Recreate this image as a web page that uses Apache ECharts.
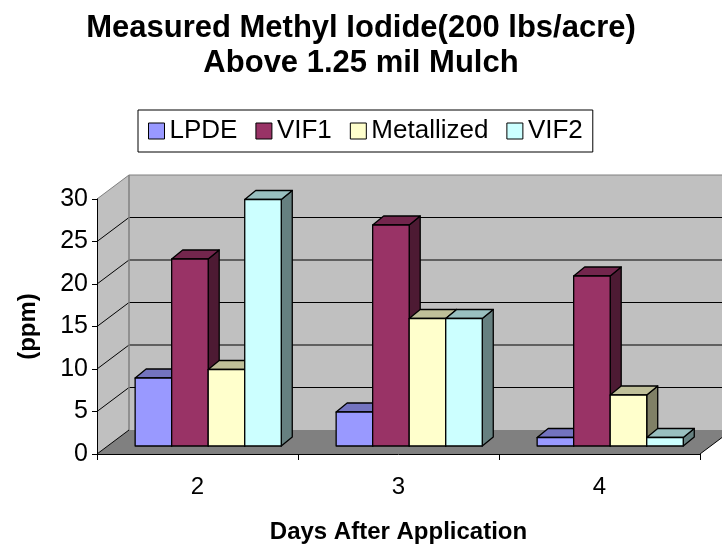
<!DOCTYPE html>
<html><head><meta charset="utf-8">
<script src="https://cdn.jsdelivr.net/npm/echarts@6/dist/echarts.min.js"></script>
<style>html,body{margin:0;padding:0;background:#fff}#c{width:722px;height:548px}</style>
</head><body><div id="c"></div>
<script>
const categories = ['2', '3', '4'];
const lpde = [8, 4, 1];
const vif1 = [22, 26, 20];
const metallized = [9, 15, 6];
const vif2 = [29, 15, 1];
const seriesNames = ['LPDE', 'VIF1', 'Metallized', 'VIF2'];
const yTicks = [0, 5, 10, 15, 20, 25, 30];

const seriesValues = [lpde, vif1, metallized, vif2];
const colors = ['#9999FF', '#993366', '#FFFFCC', '#CCFFFF'];
const FONT = 'Liberation Sans, Arial, sans-serif';
const FLOOR_DX = 32, FLOOR_DY = -24;
const BAR_SHIFT_X = 10.7, BAR_SHIFT_Y = -8;
const BAR_DX = 11, BAR_DY = -9;

function shade(hex, f) {
  const n = parseInt(hex.slice(1), 16);
  const r = Math.round(((n >> 16) & 255) * f), g = Math.round(((n >> 8) & 255) * f), b = Math.round((n & 255) * f);
  return 'rgb(' + r + ',' + g + ',' + b + ')';
}

function wallRender(params, api) {
  const cs = params.coordSys;
  const x0 = cs.x, x1 = cs.x + cs.width;
  const yB = api.coord([0, yTicks[0]])[1];
  const yT = api.coord([0, yTicks[yTicks.length - 1]])[1];
  const ch = [];
  ch.push({type: 'polygon', shape: {points: [[x0, yB], [x0, yT], [x0 + FLOOR_DX, yT + FLOOR_DY], [x0 + FLOOR_DX, yB + FLOOR_DY]]}, style: {fill: '#C0C0C0'}});
  ch.push({type: 'polygon', shape: {points: [[x0 + FLOOR_DX, yT + FLOOR_DY], [x1 + FLOOR_DX, yT + FLOOR_DY], [x1 + FLOOR_DX, yB + FLOOR_DY], [x0 + FLOOR_DX, yB + FLOOR_DY]]}, style: {fill: '#C0C0C0'}});
  ch.push({type: 'polygon', shape: {points: [[x0, yB], [x1, yB], [x1 + FLOOR_DX, yB + FLOOR_DY], [x0 + FLOOR_DX, yB + FLOOR_DY]]}, style: {fill: '#808080'}});
  for (let i = 1; i < yTicks.length; i++) {
    const y = api.coord([0, yTicks[i]])[1];
    const col = (i === yTicks.length - 1) ? '#808080' : '#000';
    ch.push({type: 'polyline', shape: {points: [[x0, y], [x0 + FLOOR_DX, y + FLOOR_DY], [x1 + FLOOR_DX, y + FLOOR_DY]]}, style: {stroke: col, lineWidth: 1, fill: null}});
  }
  ch.push({type: 'line', shape: {x1: x0 + FLOOR_DX, y1: yT + FLOOR_DY, x2: x0 + FLOOR_DX, y2: yB + FLOOR_DY}, style: {stroke: '#808080', lineWidth: 1.5}});
  ch.push({type: 'line', shape: {x1: x0, y1: yB, x2: x0 + FLOOR_DX, y2: yB + FLOOR_DY}, style: {stroke: '#000', lineWidth: 1}});
  ch.push({type: 'line', shape: {x1: x1, y1: yB, x2: x1 + FLOOR_DX, y2: yB + FLOOR_DY}, style: {stroke: '#000', lineWidth: 1}});
  return {type: 'group', children: ch};
}

function barRender(si) {
  return function (params, api) {
    const ci = api.value(0), v = api.value(1);
    const base = api.coord([ci, 0]);
    const top = api.coord([ci, v]);
    const band = api.size([1, 0])[0];
    const groupW = band * 0.727;
    const w = groupW / 4;
    const x = base[0] + BAR_SHIFT_X - groupW / 2 + si * w;
    const yB = base[1] + BAR_SHIFT_Y, yT = top[1] + BAR_SHIFT_Y;
    const c = colors[si];
    const st = {stroke: '#000', lineWidth: 1.3, lineJoin: 'round'};
    return {type: 'group', children: [
      {type: 'polygon', shape: {points: [[x + w, yT], [x + w + BAR_DX, yT + BAR_DY], [x + w + BAR_DX, yB + BAR_DY], [x + w, yB]]}, style: Object.assign({}, st, {fill: shade(c, 0.5)})},
      {type: 'polygon', shape: {points: [[x, yT], [x + w, yT], [x + w + BAR_DX, yT + BAR_DY], [x + BAR_DX, yT + BAR_DY]]}, style: Object.assign({}, st, {fill: shade(c, 0.75)})},
      {type: 'rect', shape: {x: x, y: yT, width: w, height: yB - yT}, style: Object.assign({}, st, {fill: c})}
    ]};
  };
}

const series = [{
  type: 'custom', name: 'walls', z: 1, silent: true,
  renderItem: wallRender, data: [[0, 0]]
}];
seriesNames.forEach(function (name, si) {
  series.push({
    type: 'custom', name: name, z: 2,
    itemStyle: {color: colors[si], borderColor: '#000', borderWidth: 1},
    renderItem: barRender(si),
    data: seriesValues[si].map(function (v, i) { return [i, v]; })
  });
});

const chart = echarts.init(document.getElementById('c'), null, {renderer: 'canvas'});
chart.setOption({
  animation: false,
  backgroundColor: '#fff',
  title: {
    text: 'Measured Methyl Iodide(200 lbs/acre)\nAbove 1.25 mil Mulch',
    left: 'center', top: 6,
    textStyle: {fontFamily: FONT, fontSize: 31, fontWeight: 'bold', color: '#000', lineHeight: 35}
  },
  legend: {
    data: seriesNames,
    left: 138, top: 110,
    padding: [8, 10, 8, 10],
    borderColor: '#000', borderWidth: 1,
    itemWidth: 16, itemHeight: 16, itemGap: 18,
    icon: 'rect',
    itemStyle: {borderColor: '#000', borderWidth: 1},
    textStyle: {fontFamily: FONT, fontSize: 26, color: '#000', padding: [0, 0, 0, 0]}
  },
  grid: {left: 97, right: 22, top: 199, bottom: 94, containLabel: false},
  xAxis: {
    type: 'category', data: categories, z: 10,
    axisLine: {lineStyle: {color: '#000', width: 1}},
    axisTick: {show: true, length: 6, alignWithLabel: false, lineStyle: {color: '#000'}},
    axisLabel: {fontFamily: FONT, fontSize: 24, color: '#000', margin: 21},
    name: 'Days After Application', nameLocation: 'middle', nameGap: 66,
    nameTextStyle: {fontFamily: FONT, fontSize: 24, fontWeight: 'bold', color: '#000'},
    splitLine: {show: false}
  },
  yAxis: {
    type: 'value', min: 0, max: 30, interval: 5, z: 10,
    axisLine: {show: true, lineStyle: {color: '#000', width: 1}},
    axisTick: {show: true, length: 5, lineStyle: {color: '#000'}},
    axisLabel: {fontFamily: FONT, fontSize: 25, color: '#000', margin: 9},
    splitLine: {show: false},
    name: '(ppm)', nameLocation: 'middle', nameRotate: 90, nameGap: 57,
    nameTextStyle: {fontFamily: FONT, fontSize: 24, fontWeight: 'bold', color: '#000'}
  },
  series: series
});
</script>
</body></html>
